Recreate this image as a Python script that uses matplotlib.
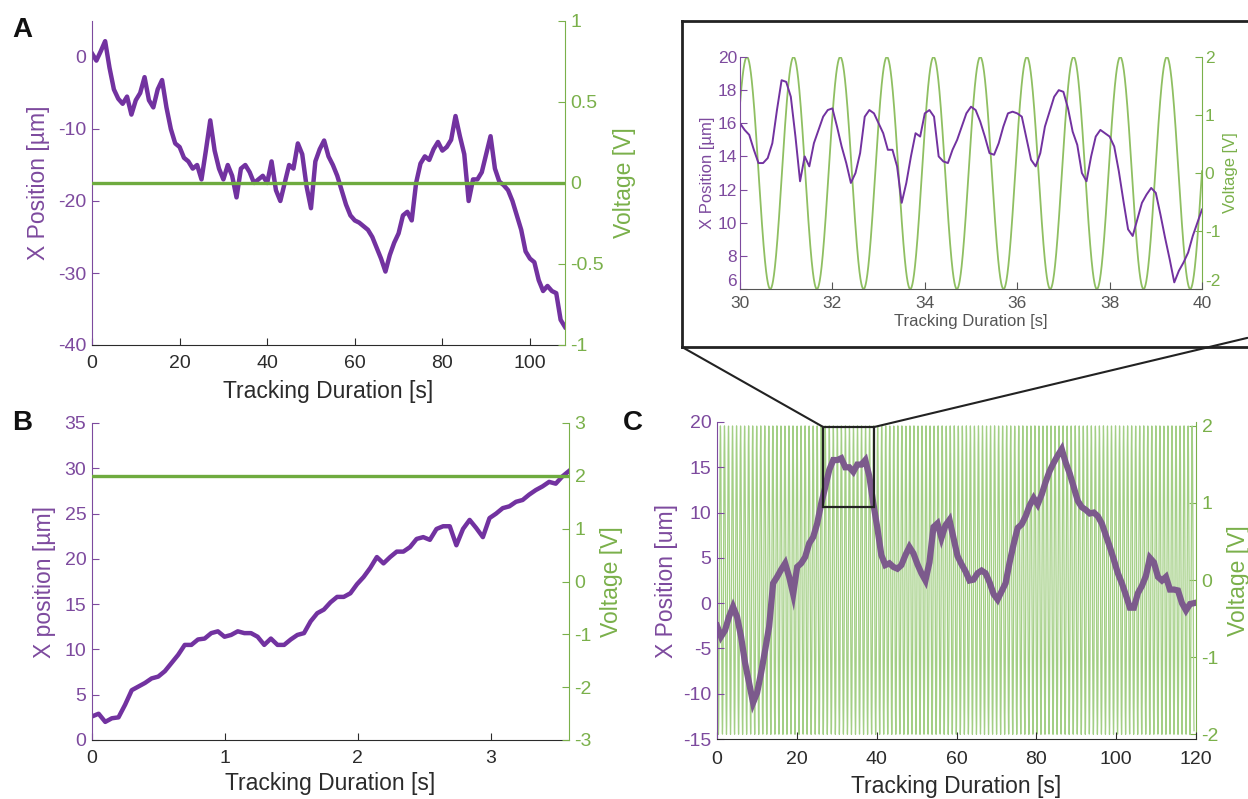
"""Bead position tracking under applied voltage: panels A, B, C and zoom inset."""

import numpy as np
import matplotlib
matplotlib.use("Agg")
import matplotlib.pyplot as plt
from matplotlib.patches import Rectangle, ConnectionPatch
from matplotlib.ticker import FuncFormatter

plt.rcParams["font.family"] = ["Liberation Sans", "DejaVu Sans"]
plt.rcParams["axes.unicode_minus"] = False

# ---- data ----
# A: position (um) sampled every 1 s, voltage held at 0 V
a_pos = [0.5, -0.5, 0.8, 2.2, -1.5, -4.5, -5.8, -6.5, -5.5, -8.0,
         -6.0, -5.0, -2.8, -6.0, -7.0, -4.5, -3.2, -7.0, -10.0, -12.0,
         -12.5, -14.0, -14.5, -15.5, -15.0, -17.0, -13.0, -8.8, -13.0, -15.5,
         -17.0, -15.0, -16.5, -19.5, -15.5, -15.0, -16.0, -17.5, -17.0, -16.5,
         -17.5, -14.5, -18.5, -20.0, -17.5, -15.0, -15.5, -12.0, -13.5, -18.0,
         -21.0, -14.5, -12.8, -11.6, -13.8, -15.0, -16.5, -18.5, -20.5, -22.0,
         -22.7, -23.0, -23.5, -24.0, -25.0, -26.5, -28.0, -29.8, -27.5, -25.8,
         -24.5, -22.0, -21.5, -22.7, -17.5, -14.8, -13.8, -14.3, -12.8, -11.8,
         -13.0, -12.5, -11.5, -8.2, -11.0, -13.5, -20.0, -17.0, -17.0, -16.0,
         -13.5, -11.0, -15.5, -17.3, -17.8, -18.5, -20.0, -22.0, -24.0, -27.0,
         -28.0, -28.5, -31.0, -32.5, -31.8, -32.5, -32.8, -36.5, -37.5]
a_end = 108.0
a_volt = 0.0

# B: position (um) over 3.59 s, voltage held at 2 V
b_pos = [2.6, 2.9, 2.0, 2.4, 2.5, 3.9, 5.5, 5.9, 6.3, 6.8,
         7.0, 7.6, 8.5, 9.4, 10.5, 10.5, 11.1, 11.2, 11.8, 12.0,
         11.4, 11.6, 12.0, 11.8, 11.8, 11.4, 10.5, 11.2, 10.5, 10.5,
         11.1, 11.6, 11.8, 13.1, 14.0, 14.4, 15.2, 15.8, 15.8, 16.2,
         17.2, 18.0, 19.0, 20.2, 19.5, 20.2, 20.8, 20.8, 21.3, 22.2,
         22.4, 22.1, 23.3, 23.6, 23.6, 21.5, 23.3, 24.3, 23.4, 22.4,
         24.5, 25.0, 25.6, 25.8, 26.3, 26.5, 27.1, 27.6, 28.0, 28.5,
         28.3, 29.1, 29.7]
b_end = 3.59
b_volt = 2.0

# C: position (um) sampled every 1 s under a sinusoidal drive
c_pos = [-2.5, -3.7, -3.0, -1.5, -0.4, -1.5, -3.7, -6.6, -8.8, -11.0,
         -9.9, -7.7, -5.2, -2.6, 2.2, 2.9, 3.7, 4.4, 2.9, 1.0,
         4.0, 4.4, 5.1, 6.6, 7.3, 8.8, 11.0, 12.8, 14.7, 15.8,
         15.8, 16.0, 15.0, 15.0, 14.5, 15.3, 15.3, 15.8, 14.0, 11.0,
         8.3, 5.3, 4.2, 4.4, 4.0, 3.8, 4.2, 5.3, 6.2, 5.5,
         4.3, 3.3, 2.5, 4.5, 8.4, 8.8, 7.2, 8.6, 9.2, 7.2,
         5.2, 4.3, 3.5, 2.5, 2.6, 3.3, 3.6, 3.3, 2.3, 1.0,
         0.4, 1.3, 2.2, 4.5, 6.5, 8.3, 8.7, 9.6, 10.8, 11.6,
         10.9, 12.0, 13.4, 14.6, 15.5, 16.3, 17.0, 15.5, 14.3, 12.8,
         11.3, 10.6, 10.3, 9.9, 10.0, 9.6, 8.8, 7.5, 6.2, 4.8,
         3.3, 2.2, 0.9, -0.5, -0.5, 1.1, 1.9, 3.0, 5.0, 4.5,
         2.9, 2.5, 2.9, 1.5, 1.5, 1.4, 0.0, -0.8, -0.1, 0.0]
c_end = 119.5

# inset: position (um) from 30 s to 40 s, every 0.1 s
inset_pos = [16.0, 15.6, 15.3, 14.4, 13.6, 13.6, 13.9, 14.8, 16.8, 18.6,
             18.5, 17.6, 15.2, 12.5, 14.0, 13.4, 14.8, 15.6, 16.4, 16.8,
             16.9, 15.8, 14.6, 13.6, 12.4, 13.0, 14.2, 16.4, 16.8, 16.6,
             16.0, 15.4, 14.4, 14.4, 13.4, 11.2, 12.4, 14.0, 15.4, 15.2,
             16.6, 16.8, 16.4, 14.0, 13.7, 13.6, 14.4, 15.0, 15.8, 16.6,
             17.0, 16.8, 16.1, 15.2, 14.2, 14.1, 14.8, 15.8, 16.6, 16.7,
             16.6, 16.4, 15.1, 13.8, 13.4, 14.2, 15.8, 16.7, 17.6, 18.0,
             17.9, 16.9, 15.5, 14.7, 13.0, 12.5, 14.0, 15.2, 15.6, 15.4,
             15.2, 14.6, 13.1, 11.3, 9.6, 9.2, 10.2, 11.2, 11.7, 12.1,
             11.8, 10.5, 9.1, 7.8, 6.4, 7.1, 7.6, 8.2, 9.2, 10.0, 10.8]
inset_start, inset_end = 30.0, 40.0

# sinusoidal drive: amplitude, period, time of a peak
drive_amp = 2.0
drive_period = 1.01
drive_peak_t = 30.15

# zoom box drawn on panel C (data units)
zoom_t = (26.6, 39.4)
zoom_x = (10.6, 19.45)

PURPLE = "#7232a0"
PURPLE_TXT = "#7d4a9e"
PURPLE_C = "#7c5a8c"
GREEN = "#6eab3f"
GREEN_TXT = "#7ab04a"
GREEN_C = "#a3cf85"
DARK = "#2b2b2b"

W, H = 1248, 799


def box(left, top, right, bottom):
    return [left / W, 1 - bottom / H, (right - left) / W, (bottom - top) / H]


def drive(t):
    return drive_amp * np.cos(2 * np.pi * (t - drive_peak_t) / drive_period)


def style_pair(ax, ax2, tick_size, pad=4, xpad=7):
    for side in ("top", "right"):
        ax.spines[side].set_visible(False)
    for side in ("top", "left", "bottom"):
        ax2.spines[side].set_visible(False)
    ax.spines["left"].set_color(PURPLE_TXT)
    ax.spines["bottom"].set_color(DARK)
    ax2.spines["right"].set_color(GREEN_TXT)
    ax.tick_params(axis="y", direction="in", colors=PURPLE_TXT,
                   labelsize=tick_size, length=5, pad=pad)
    ax.tick_params(axis="x", direction="in", colors=DARK,
                   labelsize=tick_size, length=5, pad=xpad)
    ax2.tick_params(axis="y", direction="in", colors=GREEN_TXT,
                    labelsize=tick_size, length=5, pad=pad)
    fmt = FuncFormatter(lambda v, p: f"{v:g}")
    ax.yaxis.set_major_formatter(fmt)
    ax2.yaxis.set_major_formatter(fmt)
    ax.xaxis.set_major_formatter(fmt)


fig = plt.figure(figsize=(W / 100, H / 100), dpi=100)

# ---- panel A ----
ax_a = fig.add_axes(box(92, 21, 565, 345))
ax_a2 = ax_a.twinx()
a_time = np.linspace(0, a_end, len(a_pos))
ax_a.plot(a_time, a_pos, color=PURPLE, lw=3.2)
ax_a2.plot([0, a_end], [a_volt, a_volt], color=GREEN, lw=2.4)
ax_a.set_xlim(0, a_end)
ax_a.set_ylim(-40, 5)
ax_a2.set_ylim(-1, 1)
ax_a.set_xticks([0, 20, 40, 60, 80, 100])
ax_a.set_yticks([-40, -30, -20, -10, 0])
ax_a2.set_yticks([-1, -0.5, 0, 0.5, 1])
style_pair(ax_a, ax_a2, 14)
ax_a.set_xlabel("Tracking Duration [s]", fontsize=16.5, color=DARK, labelpad=6)
ax_a.set_ylabel("X Position [µm]", fontsize=16.5, color=PURPLE_TXT, labelpad=6)
ax_a2.set_ylabel("Voltage [V]", fontsize=16.5, color=GREEN_TXT, labelpad=6)

# ---- panel B ----
ax_b = fig.add_axes(box(92, 423, 569, 740))
ax_b2 = ax_b.twinx()
b_time = np.linspace(0, b_end, len(b_pos))
ax_b.plot(b_time, b_pos, color=PURPLE, lw=3.2)
ax_b2.plot([0, b_end], [b_volt, b_volt], color=GREEN, lw=2.4)
ax_b.set_xlim(0, b_end)
ax_b.set_ylim(0, 35)
ax_b2.set_ylim(-3, 3)
ax_b.set_xticks([0, 1, 2, 3])
ax_b.set_yticks(range(0, 36, 5))
ax_b2.set_yticks(range(-3, 4))
style_pair(ax_b, ax_b2, 14)
ax_b.set_xlabel("Tracking Duration [s]", fontsize=16.5, color=DARK, labelpad=4)
ax_b.set_ylabel("X position [µm]", fontsize=16.5, color=PURPLE_TXT, labelpad=6)
ax_b2.set_ylabel("Voltage [V]", fontsize=16.5, color=GREEN_TXT, labelpad=6)

# ---- panel C ----
ax_c = fig.add_axes(box(717, 422, 1196, 739))
ax_c2 = ax_c.twinx()
ax_c.set_zorder(ax_c2.get_zorder() + 1)
ax_c.patch.set_visible(False)
c_time = np.linspace(0, c_end, len(c_pos))
t_dense = np.linspace(0, c_end, 6000)
ax_c2.plot(t_dense, drive(t_dense), color=GREEN_C, lw=0.9)
ax_c.plot(c_time, c_pos, color=PURPLE_C, lw=4.5, solid_joinstyle="miter")
ax_c.add_patch(Rectangle((zoom_t[0], zoom_x[0]), zoom_t[1] - zoom_t[0],
                         zoom_x[1] - zoom_x[0], fill=False, ec="#222222",
                         lw=1.6, zorder=5))
ax_c.set_xlim(0, 120)
ax_c.set_ylim(-15, 20)
ax_c2.set_ylim(-2.06, 2.05)
ax_c.set_xticks(range(0, 121, 20))
ax_c.set_yticks(range(-15, 21, 5))
ax_c2.set_yticks(range(-2, 3))
style_pair(ax_c, ax_c2, 14, xpad=9)
ax_c.set_xlabel("Tracking Duration [s]", fontsize=16.5, color=DARK, labelpad=5)
ax_c.set_ylabel("X Position [um]", fontsize=16.5, color=PURPLE_TXT, labelpad=4)
ax_c2.set_ylabel("Voltage [V]", fontsize=16.5, color=GREEN_TXT, labelpad=6)

# ---- inset frame and inset axes ----
frame = fig.add_axes(box(682, 21, 1252, 347))
frame.set_xticks([])
frame.set_yticks([])
frame.patch.set_facecolor("white")
for side in ("top", "left", "bottom"):
    frame.spines[side].set_linewidth(2)
    frame.spines[side].set_color("#222222")
frame.spines["right"].set_visible(False)

ax_i = fig.add_axes(box(740, 57, 1202, 289))
ax_i2 = ax_i.twinx()
ax_i.set_zorder(ax_i2.get_zorder() + 1)
ax_i.patch.set_visible(False)
ti = np.linspace(inset_start, inset_end, 2000)
ax_i2.plot(ti, drive(ti), color="#8fbf62", lw=1.3)
inset_time = np.linspace(inset_start, inset_end, len(inset_pos))
ax_i.plot(inset_time, inset_pos, color=PURPLE, lw=1.4)
ax_i.set_xlim(inset_start, inset_end)
ax_i.set_ylim(6, 20)
ax_i2.set_ylim(-2, 2)
ax_i.set_xticks(range(30, 41, 2))
ax_i.set_yticks(range(6, 21, 2))
ax_i2.set_yticks(range(-2, 3))
style_pair(ax_i, ax_i2, 12.5, pad=2, xpad=5)
ax_i.tick_params(axis="x", colors="#555555")
ax_i.spines["bottom"].set_color("#555555")
ax_i.set_xlabel("Tracking Duration [s]", fontsize=12, color="#555555", labelpad=2)
ax_i.set_ylabel("X Position [µm]", fontsize=12, color=PURPLE_TXT, labelpad=2)
ax_i2.set_ylabel("Voltage [V]", fontsize=12, color=GREEN_TXT, labelpad=2)
# lowest y labels sit just above the corner, as in the original
fig.canvas.draw()
ax_i.get_yticklabels()[0].set_va("bottom")
ax_i2.get_yticklabels()[0].set_va("bottom")

# connector lines from the zoom box to the inset frame
for (xd, yd), (xf, yf) in [((zoom_t[0], zoom_x[1]), (0.0, 0.0)),
                           ((zoom_t[1], zoom_x[1]), (0.992, 0.028))]:
    con = ConnectionPatch(xyA=(xd, yd), coordsA=ax_c.transData,
                          xyB=(xf, yf), coordsB=frame.transAxes,
                          color="#222222", lw=1.5)
    fig.add_artist(con)

# panel letters
for letter, (px, py) in {"A": (22, 30), "B": (22, 423), "C": (633, 423)}.items():
    fig.text(px / W, 1 - py / H, letter, fontsize=20, fontweight="bold",
             ha="center", va="center", color="#111111")

fig.savefig("out.png", dpi=100)
